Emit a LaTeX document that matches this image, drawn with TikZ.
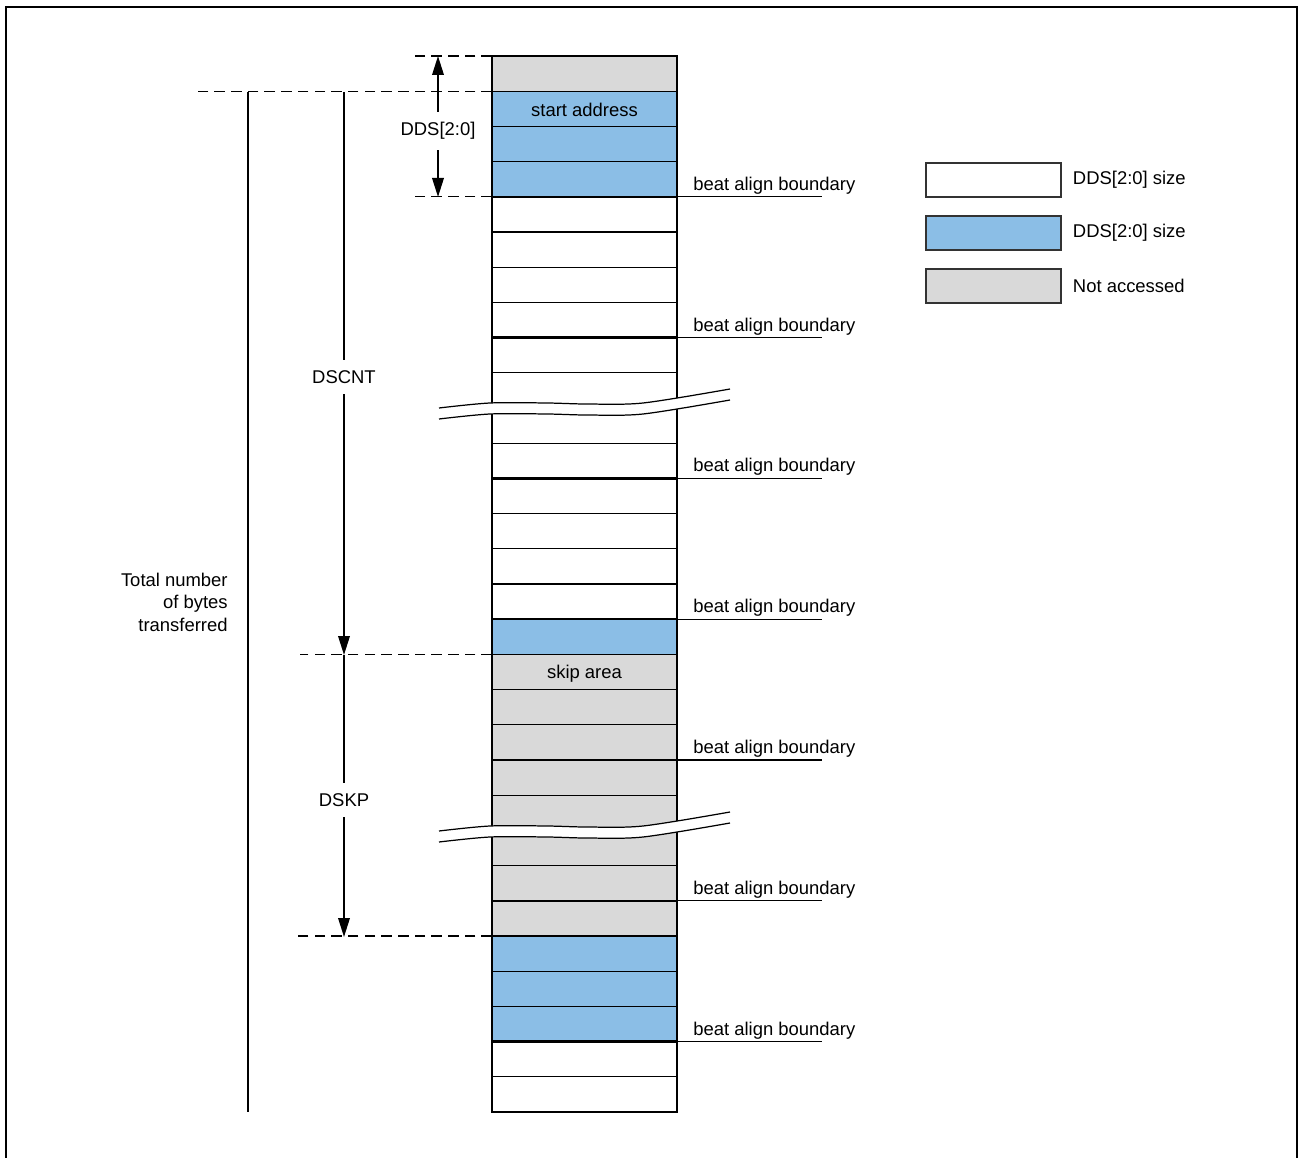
\documentclass[tikz,border=0pt]{standalone}
\usepackage{fontspec}
\setmainfont{Liberation Sans}
\usepackage{xcolor}
\usetikzlibrary{arrows.meta}
\usetikzlibrary{positioning}
\definecolor{ddsblue}{RGB}{139,190,230}
\definecolor{skipgray}{RGB}{217,217,217}

\begin{document}
\begin{tikzpicture}[x=0.02cm,y=-0.02cm,font=\fontsize{10.5}{12.8}\selectfont]
	    \tikzstyle{cell}=[draw,line width=0.7pt,minimum width=3.7cm,minimum height=0.704cm,inner sep=0pt,outer sep=0pt,anchor=north west]
	    \tikzstyle{key}=[draw=black!80,line width=0.7pt,minimum width=2.7cm,minimum height=0.68cm,inner sep=0pt]
	    \tikzstyle{guide}=[dash pattern=on 6pt off 3.5pt,line width=0.6pt]
	    \tikzstyle{dim}=[line width=1.1pt]
	    \tikzstyle{dimarrow}=[line width=1.1pt,-{Triangle[length=3.8mm,width=2.3mm]}]
	    \tikzstyle{lbl}=[inner xsep=2pt,inner ysep=6pt]

	    \useasboundingbox (0,0) rectangle (1301,1158);
	    \draw[line width=1.3pt] (6,1200) -- (6,7) -- (1297,7) -- (1297,1200);

	    % memory column
	    \foreach \c [count=\i from 0] in {skipgray,ddsblue,ddsblue,ddsblue,white,white,white,white,white,white,white,white,white,white,white,white,ddsblue,skipgray,skipgray,skipgray,skipgray,skipgray,skipgray,skipgray,skipgray,ddsblue,ddsblue,ddsblue,white,white}
	        \node[cell,fill=\c] (r\i) at (492,{56+35.2*\i}) {};

	    \node[yshift=-0.02cm] (start) at (r1) {start address};
	    \node[yshift=-0.04cm] (skip) at (r17) {skip area};

	    \foreach \k in {3,7,11,15,19,23,27} {
	        \draw[line width=1.4pt] (r\k.south west) -- (r\k.south east);
	        \draw[line width=0.7pt] (r\k.south east) -- ++(145,0);
	        \node[anchor=base west,inner sep=0pt] (b\k) at ([xshift=0.32cm,yshift=0.13cm]r\k.south east) {beat align boundary};
	    }

	    \draw[line width=1.4pt] (r0.north west) rectangle (r29.south east);

	    % breaks
	    \foreach \y in {408,831} {
	        \begin{scope}[shift={(0,\y)}]
	            \fill[white] plot[smooth] coordinates {(439,0) (490,-5) (547,-5) (587,-4) (643,-5) (730,-19)}
	                -- plot[smooth] coordinates {(730,-8) (643,6) (587,7) (547,6) (490,6) (439,11)} -- cycle;
	            \draw[line width=0.7pt] plot[smooth] coordinates {(439,0) (490,-5) (547,-5) (587,-4) (643,-5) (730,-19)};
	            \draw[line width=0.7pt] plot[smooth] coordinates {(439,11) (490,6) (547,6) (587,7) (643,6) (730,-8)};
	        \end{scope}
	    }

	    % dimensions
	    \coordinate (ddstop) at (438,56);
	    \coordinate (ddsbot) at (438,197);
	    \node[lbl] (ddsl) at (438,131) {DDS[2:0]};
	    \draw[dimarrow] (ddsl) -- (ddstop);
	    \draw[dimarrow] (ddsl) -- (ddsbot);

	    \coordinate (cnttop) at (344,92);
	    \coordinate (cntbot) at (344,655);
	    \node[lbl] (cntl) at (344,377) {DSCNT};
	    \draw[dim] (cnttop) -- (cntl);
	    \draw[dimarrow] (cntl) -- (cntbot);

	    \coordinate (skpbot) at (344,937);
	    \node[lbl] (skpl) at (344,800) {DSKP};
	    \draw[dim] (cntbot) -- (skpl);
	    \draw[dimarrow] (skpl) -- (skpbot);

	    \draw[guide] (r0.north west) -- ++(-77,0);
	    \draw[guide] (r1.north west) -- ++(-297,0);
	    \draw[guide] (r3.south west) -- ++(-77,0);
	    \draw[guide] (r16.south west) -- ++(-192,0);
	    \draw[guide] (r24.south west) -- ++(-195,0);

	    \coordinate (tottop) at (248,92);
	    \draw[line width=0.8pt] (tottop) -- (tottop |- r29.south);
	    \node[anchor=east,align=right,inner sep=0pt] (total) at (228,602) {Total number\\of bytes\\transferred};

	    % legend
	    \node[key,fill=white] (kw) at (993.5,180) {};
	    \node[key,fill=ddsblue] (kb) at (993.5,233) {};
	    \node[key,fill=skipgray] (kg) at (993.5,286) {};
	    \node[right=0.22cm of kw,inner sep=0pt] (kwt) {DDS[2:0] size};
	    \node[right=0.22cm of kb,inner sep=0pt] (kbt) {DDS[2:0] size};
	    \node[right=0.22cm of kg,inner sep=0pt] (kgt) {Not accessed};
\end{tikzpicture}
\end{document}
